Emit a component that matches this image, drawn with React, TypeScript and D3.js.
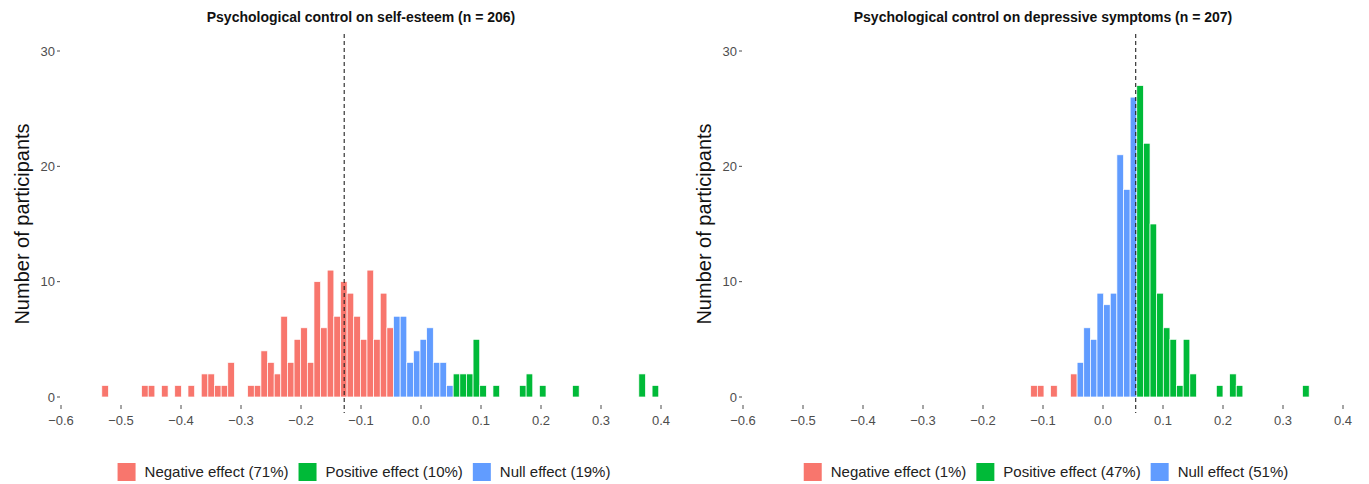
import React, { useEffect, useRef } from "react";
import * as d3 from "d3";

const binWidth = 0.01105;

// self-esteem histogram, bins counted from esteemStart
const esteemStart = -0.532;
const esteemNegative = [1, 0, 0, 0, 0, 0, 1, 1, 0, 1, 0, 1, 0, 1, 0, 2, 2, 1, 1, 3, 0, 0, 1, 1, 4, 3, 2, 7, 3, 5, 6, 3, 10, 6, 11, 7, 10, 9, 7, 5, 11, 5, 9, 6];
const esteemNull = [7, 7, 3, 4, 5, 6, 3, 3, 1];
const esteemPositive = [2, 2, 2, 5, 1, 0, 1, 0, 0, 0, 1, 2, 0, 1, 0, 0, 0, 0, 1, 0, 0, 0, 0, 0, 0, 0, 0, 0, 2, 0, 1];
const esteemLine = -0.128;

// depressive symptoms histogram
const depStart = -0.1205;
const depNegative = [1, 1, 0, 1, 0, 0, 2];
const depNull = [3, 6, 5, 9, 8, 9, 21, 18, 26];
const depPositive = [27, 22, 15, 9, 6, 5, 1, 5, 2, 0, 0, 0, 1, 0, 2, 1, 0, 0, 0, 0, 0, 0, 0, 0, 0, 1];
const depLine = 0.0545;

const xTicks = [-0.6, -0.5, -0.4, -0.3, -0.2, -0.1, 0.0, 0.1, 0.2, 0.3, 0.4];
const yTicks = [0, 10, 20, 30];

const esteemTitle = "Psychological control on self-esteem (n = 206)";
const depTitle = "Psychological control on depressive symptoms (n = 207)";
const yTitle = "Number of participants";
const esteemLegend = ["Negative effect (71%)", "Positive effect (10%)", "Null effect (19%)"];
const depLegend = ["Negative effect (1%)", "Positive effect (47%)", "Null effect (51%)"];

const colors = { neg: "#F8766D", pos: "#00BA38", nul: "#619CFF" };
const font = "'Liberation Sans', Arial, sans-serif";

const App = () => {
    const svgRef = useRef(null);

    useEffect(() => {
        const svg = d3.select(svgRef.current);
        svg.selectAll("*").remove();

        const top = 34;
        const lineBottom = 413;
        const tickTop = 405;

        const yScale = d3.scaleLinear().domain([0, 30]).range([397, 51]);

        const drawPanel = (left, title, start, neg, nul, pos, vline, legend) => {
            const xScale = d3.scaleLinear().domain([-0.6, 0.4]).range([left, left + 600]);
            const g = svg.append("g");

            // bins, in the order they sit on the axis
            const bins = [];
            [[neg, colors.neg], [nul, colors.nul], [pos, colors.pos]].forEach(([arr, col]) => {
                arr.forEach((c) => bins.push({ c, col }));
            });

            g.selectAll("rect.bar")
                .data(bins.map((d, i) => ({ ...d, x0: start + i * binWidth })).filter((d) => d.c > 0))
                .enter()
                .append("rect")
                .attr("class", "bar")
                .attr("x", (d) => xScale(d.x0))
                .attr("width", (d) => xScale(d.x0 + binWidth) - xScale(d.x0))
                .attr("y", (d) => yScale(d.c))
                .attr("height", (d) => yScale(0) - yScale(d.c))
                .attr("fill", (d) => d.col)
                .attr("stroke", "white")
                .attr("stroke-width", 0.7);

            // dashed reference line
            g.append("line")
                .attr("x1", xScale(vline))
                .attr("x2", xScale(vline))
                .attr("y1", top)
                .attr("y2", lineBottom)
                .attr("stroke", "#222")
                .attr("stroke-width", 1.1)
                .attr("stroke-dasharray", "4,3");

            // y axis
            yTicks.forEach((t) => {
                g.append("line")
                    .attr("x1", left - 4)
                    .attr("x2", left - 1)
                    .attr("y1", yScale(t))
                    .attr("y2", yScale(t))
                    .attr("stroke", "#4D4D4D");
                g.append("text")
                    .attr("x", left - 6)
                    .attr("y", yScale(t) + 4.5)
                    .attr("text-anchor", "end")
                    .attr("font-family", font)
                    .attr("font-size", 13)
                    .attr("fill", "#4D4D4D")
                    .text(t);
            });

            // x axis
            xTicks.forEach((t) => {
                g.append("line")
                    .attr("x1", xScale(t))
                    .attr("x2", xScale(t))
                    .attr("y1", tickTop)
                    .attr("y2", tickTop + 4)
                    .attr("stroke", "#4D4D4D");
                g.append("text")
                    .attr("x", xScale(t))
                    .attr("y", tickTop + 20)
                    .attr("text-anchor", "middle")
                    .attr("font-family", font)
                    .attr("font-size", 13)
                    .attr("fill", "#4D4D4D")
                    .text(d3.format(".1f")(t).replace("-", "\u2212"));
            });

            // titles
            const cx = left + 300;
            g.append("text")
                .attr("x", cx)
                .attr("y", 22)
                .attr("text-anchor", "middle")
                .attr("font-family", font)
                .attr("font-weight", "bold")
                .attr("font-size", 14)
                .attr("fill", "#111")
                .text(title);

            g.append("text")
                .attr("transform", `translate(${left - 32},${224}) rotate(-90)`)
                .attr("text-anchor", "middle")
                .attr("font-family", font)
                .attr("font-size", 20)
                .attr("fill", "#111")
                .text(yTitle);

            // legend, measured then centred under the panel
            const lg = g.append("g");
            const legendCols = [colors.neg, colors.pos, colors.nul];
            let pos0 = 0;
            legend.forEach((label, i) => {
                lg.append("rect")
                    .attr("x", pos0)
                    .attr("y", 463)
                    .attr("width", 18)
                    .attr("height", 18)
                    .attr("fill", legendCols[i]);
                const txt = lg.append("text")
                    .attr("x", pos0 + 27)
                    .attr("y", 477)
                    .attr("font-family", font)
                    .attr("font-size", 15)
                    .attr("fill", "#222")
                    .text(label);
                const w = txt.node().getComputedTextLength();
                pos0 += 27 + w + 10;
            });
            const total = pos0 - 10;
            lg.attr("transform", `translate(${cx - total / 2 + 3},0)`);
        };

        drawPanel(61, esteemTitle, esteemStart, esteemNegative, esteemNull, esteemPositive, esteemLine, esteemLegend);
        drawPanel(743, depTitle, depStart, depNegative, depNull, depPositive, depLine, depLegend);
    }, []);

    return (
        <svg
            ref={svgRef}
            width={1369}
            height={484}
            style={{ position: "absolute", left: 0, top: 0, background: "white" }}
        />
    );
};

export default App;
